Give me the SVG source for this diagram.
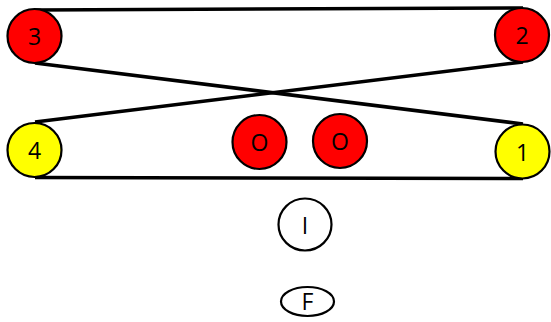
<svg xmlns="http://www.w3.org/2000/svg" width="551" height="322" viewBox="0 0 551 322">
<style>
.n{stroke:#000;stroke-width:2.2}
.red{fill:#ff0000}
.yel{fill:#ffff00}
.wht{fill:#fff}
.t{font-family:"Open Sans","Liberation Sans",Arial,sans-serif;font-size:23px;fill:#000;text-anchor:middle}
.c{stroke:#000;stroke-width:3.5;fill:none;stroke-linecap:butt}
</style>
<rect width="551" height="322" fill="#fff"/>
<g id="connectors">
<line class="c" x1="35" y1="10" x2="523" y2="8"/>
<line class="c" x1="35" y1="63" x2="523" y2="124"/>
<line class="c" x1="523" y1="62" x2="35" y2="122"/>
<line class="c" x1="35" y1="177.5" x2="523" y2="178.5"/>
</g>
<g id="n3"><circle class="n red" cx="34.5" cy="36" r="27"/><text class="t" x="34.5" y="45">3</text></g>
<g id="n2"><circle class="n red" cx="522" cy="35" r="27"/><text class="t" x="522" y="44">2</text></g>
<g id="n4"><circle class="n yel" cx="34.5" cy="150" r="27"/><text class="t" x="34.5" y="159">4</text></g>
<g id="n1"><circle class="n yel" cx="522.5" cy="151.5" r="27"/><text class="t" x="522.5" y="160.5">1</text></g>
<g id="o1"><circle class="n red" cx="259.5" cy="142" r="27"/><text class="t" x="259.5" y="151">O</text></g>
<g id="o2"><circle class="n red" cx="340" cy="141" r="27"/><text class="t" x="340" y="150">O</text></g>
<g id="i"><ellipse class="n wht" cx="305" cy="224.5" rx="26.5" ry="26"/><text class="t" x="305" y="233.5">I</text></g>
<g id="f"><ellipse class="n wht" cx="307.5" cy="301.5" rx="26.5" ry="14.5"/><text class="t" x="307.5" y="310">F</text></g>
</svg>
